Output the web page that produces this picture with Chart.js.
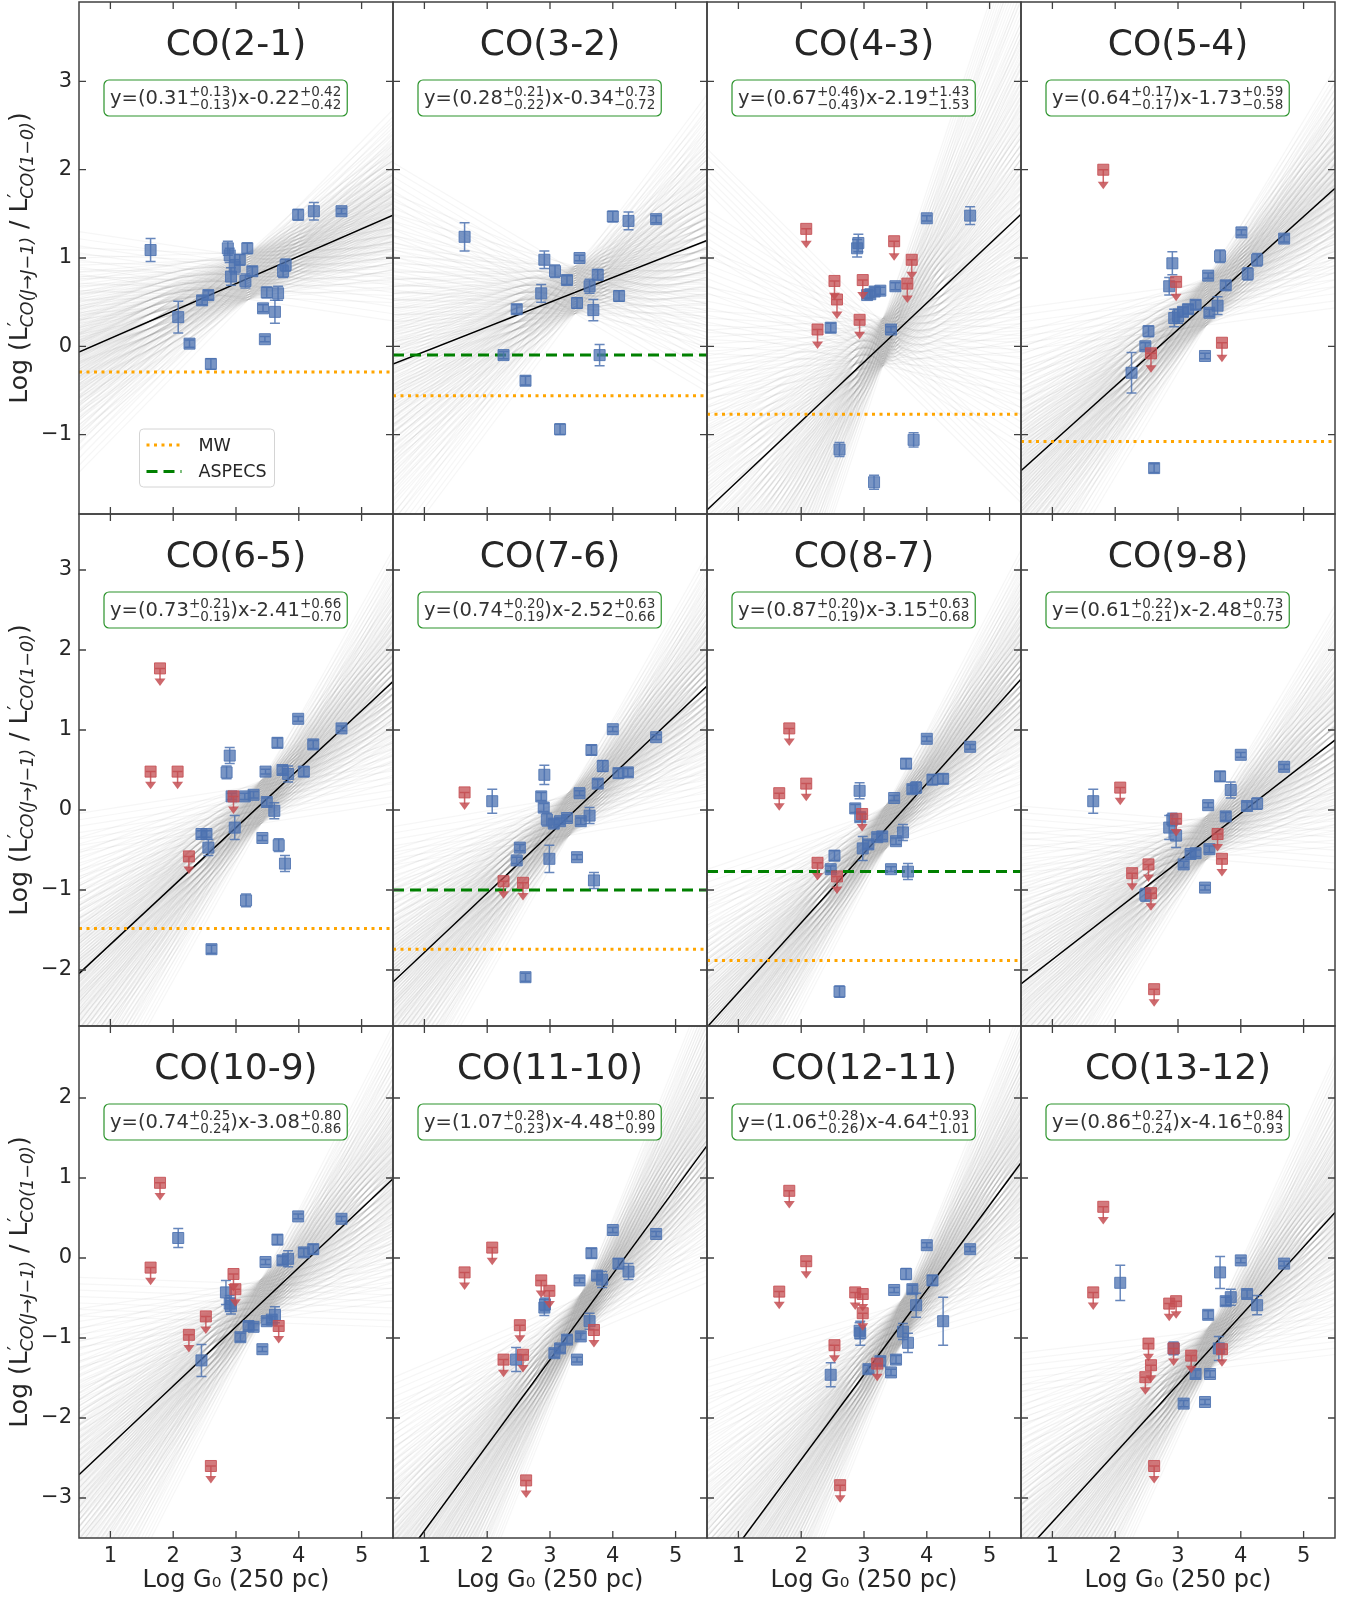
<!DOCTYPE html>
<html>
<head>
<meta charset="utf-8">
<script src="https://cdn.jsdelivr.net/npm/chart.js@4.4.1/dist/chart.umd.min.js"></script>
<style>
  html, body { margin: 0; padding: 0; background: #fff; overflow: hidden; }
  #fig { position: relative; width: 1355px; height: 1599px; overflow: hidden; }
  #fig canvas { position: absolute; }
</style>
</head>
<body>
<div id="fig"></div>
<script>
// ---- data ----
const transitions = ["CO(2-1)", "CO(3-2)", "CO(4-3)", "CO(5-4)", "CO(6-5)", "CO(7-6)",
  "CO(8-7)", "CO(9-8)", "CO(10-9)", "CO(11-10)", "CO(12-11)", "CO(13-12)"];

const slopes      = [0.31, 0.28, 0.67, 0.64, 0.73, 0.74, 0.87, 0.61, 0.74, 1.07, 1.06, 0.86];
const slopeUp     = [0.13, 0.21, 0.46, 0.17, 0.21, 0.20, 0.20, 0.22, 0.25, 0.28, 0.28, 0.27];
const slopeDn     = [0.13, 0.22, 0.43, 0.17, 0.19, 0.19, 0.19, 0.21, 0.24, 0.23, 0.26, 0.24];
const intercepts  = [-0.22, -0.34, -2.19, -1.73, -2.41, -2.52, -3.15, -2.48, -3.08, -4.48, -4.64, -4.16];
const interceptUp = [0.42, 0.73, 1.43, 0.59, 0.66, 0.63, 0.63, 0.73, 0.80, 0.80, 0.93, 0.84];
const interceptDn = [0.42, 0.72, 1.53, 0.58, 0.70, 0.66, 0.68, 0.75, 0.86, 0.99, 1.01, 0.93];

// where the posterior fan is narrowest (log G0)
const fanPivotX = [3.2, 3.4, 3.3, 3.45, 3.4, 3.3, 3.35, 3.45, 3.4, 3.5, 3.6, 3.5];
// posterior draws, in units of the quoted slope error
const fanSteps = [-3.2, -2.6, -2.2, -1.9, -1.65, -1.45, -1.25, -1.08, -0.92, -0.78, -0.64, -0.5, -0.38, -0.26, -0.14,
  0, 0.14, 0.26, 0.38, 0.5, 0.64, 0.78, 0.92, 1.08, 1.25, 1.45, 1.65, 1.9, 2.2, 2.6, 3.2];
// vertical scatter of the draws at the pivot, and a stagger between neighbouring draws
const fanWaist = [-0.24, -0.16, -0.08, 0, 0.08, 0.16, 0.24];
const fanStagger = [0, 0.027, 0.053];

const mwLevel     = [-0.29, -0.56, -0.77, -1.08, -1.48, -1.74, -1.88, null, null, null, null, null];
const aspecsLevel = [null, -0.10, null, null, null, -1.00, -0.77, null, null, null, null, null];

const xTicks = [1, 2, 3, 4, 5];
const yTicks = [[-1, 0, 1, 2, 3], [-2, -1, 0, 1, 2, 3], [-3, -2, -1, 0, 1, 2]];
const xRange = [0.5, 5.5];
const yMin = [-1.9, -2.7, -3.5];
const yMax = [3.9, 3.7, 2.9];
const limArrow = 0.22;

// detections: [log G0, log ratio, error]
const det21 = [[1.64,1.09,0.13],[2.08,0.33,0.18],[2.26,0.03,0.04],[2.46,0.52,0.05],[2.56,0.58,0.05],
  [2.60,-0.20,0.06],[2.87,1.11,0.08],[2.90,1.03,0.08],[2.92,0.79,0.1],[2.98,0.90,0.08],[3.06,0.98,0.06],
  [3.15,0.74,0.08],[3.18,1.11,0.06],[3.26,0.85,0.05],[3.43,0.43,0.04],[3.46,0.08,0.03],[3.49,0.61,0.06],
  [3.62,0.39,0.13],[3.67,0.60,0.08],[3.75,0.85,0.07],[3.79,0.92,0.07],[3.99,1.49,0.06],[4.24,1.53,0.1],
  [4.68,1.53,0.03]];
const det32 = [[1.64,1.24,0.16],[2.26,-0.10,0.04],[2.47,0.42,0.05],[2.61,-0.39,0.05],[2.86,0.60,0.1],
  [2.91,0.98,0.1],[3.08,0.85,0.07],[3.16,-0.94,0.06],[3.27,0.75,0.05],[3.43,0.49,0.06],[3.47,1.00,0.03],
  [3.63,0.68,0.08],[3.69,0.41,0.12],[3.76,0.81,0.06],[3.79,-0.10,0.12],[4.00,1.47,0.06],[4.10,0.57,0.06],
  [4.25,1.42,0.1],[4.69,1.44,0.04]];
const det43 = [[2.47,0.21,0.05],[2.61,-1.17,0.08],[2.89,1.11,0.1],[2.91,1.17,0.1],[3.05,0.58,0.04],
  [3.10,0.59,0.04],[3.17,0.62,0.05],[3.26,0.63,0.04],[3.16,-1.54,0.08],[3.43,0.19,0.03],[3.50,0.68,0.04],
  [3.79,-1.06,0.08],[4.00,1.45,0.03],[4.69,1.48,0.1]];
const det54 = [[2.26,-0.30,0.23],[2.48,0.00,0.04],[2.53,0.17,0.06],[2.62,-1.38,0.05],[2.86,0.68,0.1],
  [2.91,0.94,0.13],[2.94,0.32,0.1],[3.00,0.34,0.08],[3.08,0.39,0.05],[3.16,0.42,0.05],[3.28,0.47,0.05],
  [3.43,-0.11,0.03],[3.48,0.80,0.03],[3.50,0.38,0.04],[3.63,0.46,0.1],[3.67,1.02,0.07],[3.76,0.69,0.05],
  [4.01,1.29,0.03],[4.11,0.82,0.07],[4.26,0.98,0.07],[4.69,1.22,0.04]];
const det65 = [[2.45,-0.30,0.04],[2.53,-0.30,0.04],[2.56,-0.47,0.1],[2.61,-1.74,0.05],[2.85,0.47,0.08],
  [2.90,0.68,0.1],[2.93,0.17,0.04],[2.98,-0.22,0.15],[3.14,0.17,0.04],[3.16,-1.13,0.08],[3.28,0.19,0.04],
  [3.42,-0.35,0.03],[3.47,0.48,0.03],[3.49,0.10,0.05],[3.61,-0.01,0.1],[3.66,0.84,0.06],[3.68,-0.44,0.08],
  [3.74,0.50,0.05],[3.78,-0.67,0.1],[3.83,0.45,0.1],[3.99,1.14,0.03],[4.08,0.48,0.06],[4.23,0.82,0.05],
  [4.68,1.02,0.03]];
const det76 = [[2.08,0.11,0.15],[2.47,-0.63,0.04],[2.52,-0.47,0.04],[2.61,-2.09,0.05],[2.86,0.17,0.05],
  [2.90,0.03,0.05],[2.91,0.44,0.12],[2.95,-0.12,0.08],[2.99,-0.61,0.17],[3.06,-0.17,0.05],[3.16,-0.14,0.04],
  [3.27,-0.10,0.04],[3.43,-0.59,0.03],[3.47,0.21,0.03],[3.49,-0.14,0.04],[3.63,-0.07,0.1],[3.66,0.75,0.06],
  [3.70,-0.88,0.1],[3.76,0.33,0.05],[3.84,0.55,0.07],[4.00,1.01,0.03],[4.09,0.46,0.06],[4.24,0.47,0.05],
  [4.69,0.91,0.03]];
const det87 = [[2.47,-0.74,0.04],[2.53,-0.57,0.06],[2.61,-2.27,0.07],[2.86,0.02,0.05],[2.93,0.24,0.1],
  [2.94,-0.09,0.05],[2.98,-0.48,0.15],[3.07,-0.43,0.05],[3.21,-0.34,0.04],[3.29,-0.33,0.04],[3.43,-0.74,0.03],
  [3.48,0.15,0.03],[3.51,-0.39,0.04],[3.62,-0.28,0.1],[3.67,0.58,0.06],[3.70,-0.77,0.1],[3.77,0.26,0.05],
  [3.83,0.28,0.07],[4.00,0.89,0.03],[4.09,0.38,0.06],[4.26,0.39,0.06],[4.69,0.79,0.03]];
const det98 = [[1.65,0.11,0.15],[2.48,-1.06,0.08],[2.86,-0.22,0.15],[2.91,-0.12,0.08],[2.97,-0.32,0.15],
  [3.09,-0.68,0.04],[3.20,-0.55,0.04],[3.28,-0.54,0.04],[3.43,-0.97,0.03],[3.48,0.06,0.03],[3.50,-0.49,0.04],
  [3.67,0.42,0.06],[3.76,-0.08,0.05],[3.84,0.25,0.1],[4.00,0.69,0.03],[4.10,0.05,0.05],[4.26,0.08,0.07],
  [4.69,0.54,0.03]];
const det109 = [[2.08,0.25,0.12],[2.45,-1.28,0.2],[2.84,-0.43,0.15],[2.90,-0.57,0.1],[2.92,-0.60,0.1],
  [3.07,-0.99,0.05],[3.20,-0.85,0.05],[3.28,-0.86,0.04],[3.42,-1.14,0.03],[3.47,-0.05,0.03],[3.49,-0.79,0.04],
  [3.57,-0.77,0.04],[3.62,-0.71,0.1],[3.66,0.23,0.06],[3.74,-0.03,0.05],[3.83,-0.01,0.1],[3.99,0.52,0.03],
  [4.08,0.07,0.05],[4.23,0.11,0.06],[4.68,0.49,0.03]];
const det1110 = [[2.46,-1.27,0.15],[2.91,-0.62,0.1],[2.92,-0.58,0.08],[3.07,-1.19,0.05],[3.16,-1.13,0.05],
  [3.27,-1.02,0.05],[3.43,-1.27,0.03],[3.47,-0.28,0.03],[3.49,-0.98,0.04],[3.63,-0.79,0.1],[3.66,0.06,0.06],
  [3.75,-0.22,0.05],[3.83,-0.27,0.1],[4.00,0.35,0.03],[4.09,-0.07,0.06],[4.25,-0.17,0.1],[4.69,0.30,0.03]];
const det1211 = [[2.47,-1.46,0.15],[2.93,-0.91,0.1],[2.94,-0.94,0.15],[3.07,-1.39,0.05],[3.26,-1.29,0.05],
  [3.43,-1.43,0.04],[3.48,-0.40,0.03],[3.51,-1.27,0.05],[3.62,-0.92,0.1],[3.67,-0.20,0.07],[3.70,-1.06,0.12],
  [3.77,-0.39,0.05],[3.83,-0.59,0.15],[4.00,0.16,0.03],[4.09,-0.28,0.06],[4.26,-0.79,0.3],[4.69,0.11,0.03]];
const det1312 = [[2.08,-0.31,0.22],[2.93,-1.13,0.08],[3.09,-1.82,0.04],[3.28,-1.45,0.05],[3.43,-1.80,0.03],
  [3.48,-0.71,0.05],[3.51,-1.45,0.04],[3.65,-1.13,0.15],[3.67,-0.18,0.2],[3.76,-0.54,0.05],[3.84,-0.49,0.1],
  [4.00,-0.03,0.03],[4.10,-0.45,0.05],[4.26,-0.59,0.12],[4.69,-0.07,0.03]];

// upper limits: [log G0, log ratio]
const lim21 = [];
const lim32 = [];
const lim43 = [[2.08,1.33],[2.26,0.19],[2.53,0.74],[2.57,0.53],[2.93,0.30],[2.98,0.75],[3.48,1.19],[3.69,0.71],[3.76,0.98]];
const lim54 = [[1.81,2.00],[2.57,-0.08],[2.97,0.73],[3.70,0.04]];
const lim65 = [[1.64,0.48],[1.79,1.77],[2.07,0.48],[2.25,-0.58],[2.96,0.17]];
const lim76 = [[1.64,0.22],[2.26,-0.89],[2.57,-0.91]];
const lim87 = [[1.65,0.21],[1.81,1.02],[2.08,0.33],[2.26,-0.66],[2.57,-0.83],[2.97,-0.05]];
const lim98 = [[2.08,0.28],[2.27,-0.79],[2.53,-0.68],[2.57,-1.04],[2.62,-2.24],[2.97,-0.11],[3.63,-0.30],[3.70,-0.61]];
const lim109 = [[1.64,-0.12],[1.79,0.94],[2.25,-0.96],[2.52,-0.73],[2.60,-2.60],[2.96,-0.20],[2.99,-0.39],[3.68,-0.85]];
const lim1110 = [[1.64,-0.18],[2.08,0.13],[2.26,-1.27],[2.52,-0.84],[2.57,-1.21],[2.62,-2.78],[2.86,-0.28],[2.99,-0.41],[3.70,-0.90]];
const lim1211 = [[1.65,-0.42],[1.81,0.84],[2.08,-0.04],[2.53,-1.09],[2.62,-2.84],[2.86,-0.43],[2.98,-0.45],[2.98,-0.69],[3.21,-1.32]];
const lim1312 = [[1.65,-0.43],[1.81,0.64],[2.48,-1.49],[2.53,-1.07],[2.57,-1.34],[2.62,-2.60],[2.86,-0.57],[2.93,-1.13],[2.97,-0.54],[3.21,-1.22],[3.70,-1.14]];

const detections = [det21, det32, det43, det54, det65, det76, det87, det98, det109, det1110, det1211, det1312];
const limits = [lim21, lim32, lim43, lim54, lim65, lim76, lim87, lim98, lim109, lim1110, lim1211, lim1312];

// ---- layout / style ----
const plotLeft = [79, 393, 707, 1021];
const plotTop = [2, 514, 1026];
const plotW = 314, plotH = 512;
const PAD = 12;
const FONT = '"DejaVu Sans"';
const blueFill = 'rgba(76,114,176,0.75)';
const blueLine = 'rgba(76,114,176,0.85)';
const redFill = 'rgba(196,78,82,0.75)';
const redLine = 'rgba(196,78,82,0.85)';
const mwColor = '#ffa500';
const aspecsColor = '#008000';
const textColor = '#262626';
const frameColor = '#404040';
const fanColor = 'rgba(70,70,70,0.05)';

Chart.defaults.font.family = FONT;

const minus = v => (v < 0 ? '\u2212' + Math.abs(v) : String(v));

function drawEquation(ctx, x, top, i) {
  const main = '19.5px ' + FONT, small = '13.5px ' + FONT;
  const parts = [
    { t: 'y=(' + slopes[i].toFixed(2) },
    { sup: '+' + slopeUp[i].toFixed(2), sub: '\u2212' + slopeDn[i].toFixed(2) },
    { t: ')x-' + Math.abs(intercepts[i]).toFixed(2) },
    { sup: '+' + interceptUp[i].toFixed(2), sub: '\u2212' + interceptDn[i].toFixed(2) }
  ];
  let w = 0;
  parts.forEach(p => {
    if (p.t) { ctx.font = main; p.w = ctx.measureText(p.t).width; }
    else { ctx.font = small; p.w = Math.max(ctx.measureText(p.sup).width, ctx.measureText(p.sub).width); }
    w += p.w;
  });
  const padX = 6, boxH = 36;
  ctx.beginPath();
  ctx.roundRect(x, top, w + 2 * padX, boxH, 5);
  ctx.fillStyle = '#fff';
  ctx.fill();
  ctx.strokeStyle = 'rgba(20,135,20,0.9)';
  ctx.lineWidth = 1.2;
  ctx.stroke();
  ctx.fillStyle = '#333';
  ctx.textAlign = 'left';
  ctx.textBaseline = 'alphabetic';
  let cx = x + padX;
  const base = top + 24;
  parts.forEach(p => {
    if (p.t) { ctx.font = main; ctx.fillText(p.t, cx, base); }
    else {
      ctx.font = small;
      ctx.fillText(p.sup, cx, base - 8);
      ctx.fillText(p.sub, cx, base + 4.5);
    }
    cx += p.w;
  });
}

function drawYTitle(ctx, cx, cy) {
  const main = '25px ' + FONT, sub = 'italic 17.5px ' + FONT, prime = '19px ' + FONT;
  const segs = [
    { t: 'Log (L', f: main, dy: 0 },
    { t: '\u2032', f: prime, dy: -6, overlay: true },
    { t: 'CO(J\u2192J\u22121)', f: sub, dy: 6 },
    { t: ' / L', f: main, dy: 0 },
    { t: '\u2032', f: prime, dy: -6, overlay: true },
    { t: 'CO(1\u22120)', f: sub, dy: 6 },
    { t: ')', f: main, dy: 0 }
  ];
  ctx.save();
  let total = 0;
  segs.forEach(s => { ctx.font = s.f; s.w = ctx.measureText(s.t).width; if (!s.overlay) total += s.w; });
  ctx.translate(cx, cy);
  ctx.rotate(-Math.PI / 2);
  ctx.fillStyle = textColor;
  ctx.textAlign = 'left';
  ctx.textBaseline = 'alphabetic';
  let x = -total / 2;
  segs.forEach(s => {
    ctx.font = s.f;
    ctx.fillText(s.t, x + (s.overlay ? 1 : 0), 8.5 + s.dy);
    if (!s.overlay) x += s.w;
  });
  ctx.restore();
}

function drawLegend(ctx, a) {
  const x = a.left + 60.5, y = a.top + 427, w = 135, h = 58;
  ctx.save();
  ctx.beginPath();
  ctx.roundRect(x, y, w, h, 4);
  ctx.fillStyle = 'rgba(255,255,255,0.85)';
  ctx.fill();
  ctx.strokeStyle = '#d4d4d4';
  ctx.lineWidth = 1;
  ctx.stroke();
  ctx.lineWidth = 3;
  ctx.lineCap = 'butt';
  ctx.strokeStyle = mwColor;
  ctx.setLineDash([3, 4.5]);
  ctx.beginPath(); ctx.moveTo(x + 7, y + 16); ctx.lineTo(x + 42, y + 16); ctx.stroke();
  ctx.strokeStyle = aspecsColor;
  ctx.setLineDash([11, 6]);
  ctx.beginPath(); ctx.moveTo(x + 7, y + 42.5); ctx.lineTo(x + 42, y + 42.5); ctx.stroke();
  ctx.setLineDash([]);
  ctx.fillStyle = textColor;
  ctx.font = '17.5px ' + FONT;
  ctx.textBaseline = 'middle';
  ctx.fillText('MW', x + 59, y + 17);
  ctx.fillText('ASPECS', x + 59, y + 43.5);
  ctx.restore();
}

const panelDecor = {
  id: 'panelDecor',
  beforeDatasetDraw(chart, args) {
    const ds = chart.data.datasets[args.index];
    if (ds.kind !== 'det' && ds.kind !== 'lim') return;
    const ctx = chart.ctx, xs = chart.scales.x, ys = chart.scales.y;
    ctx.save();
    ctx.lineWidth = 1.5;
    if (ds.kind === 'det') {
      ctx.strokeStyle = blueLine;
      ds.data.forEach(pt => {
        const px = xs.getPixelForValue(pt.x);
        const t = ys.getPixelForValue(pt.y + pt.err);
        const b = ys.getPixelForValue(pt.y - pt.err);
        ctx.beginPath();
        ctx.moveTo(px, t); ctx.lineTo(px, b);
        ctx.moveTo(px - 5, t); ctx.lineTo(px + 5, t);
        ctx.moveTo(px - 5, b); ctx.lineTo(px + 5, b);
        ctx.stroke();
      });
    } else {
      ctx.strokeStyle = redLine;
      ctx.fillStyle = redLine;
      ds.data.forEach(pt => {
        const px = xs.getPixelForValue(pt.x);
        const py = ys.getPixelForValue(pt.y);
        const tip = ys.getPixelForValue(pt.y - limArrow);
        ctx.beginPath();
        ctx.moveTo(px - 5, py); ctx.lineTo(px + 5, py);
        ctx.moveTo(px, py); ctx.lineTo(px, tip - 6);
        ctx.stroke();
        ctx.beginPath();
        ctx.moveTo(px - 5.5, tip - 7.5); ctx.lineTo(px + 5.5, tip - 7.5); ctx.lineTo(px, tip);
        ctx.closePath();
        ctx.fill();
      });
    }
    ctx.restore();
  },
  afterDraw(chart) {
    const o = chart.options.plugins.panelDecor;
    const ctx = chart.ctx, a = chart.chartArea, xs = chart.scales.x, ys = chart.scales.y;
    const i = o.index;
    ctx.save();
    // inward ticks on all sides
    ctx.strokeStyle = frameColor;
    ctx.lineWidth = 1.3;
    ctx.beginPath();
    xTicks.forEach(v => {
      const px = xs.getPixelForValue(v);
      ctx.moveTo(px, a.top); ctx.lineTo(px, a.top + 7);
      ctx.moveTo(px, a.bottom); ctx.lineTo(px, a.bottom - 7);
    });
    yTicks[o.row].forEach(v => {
      const py = ys.getPixelForValue(v);
      ctx.moveTo(a.left, py); ctx.lineTo(a.left + 7, py);
      ctx.moveTo(a.right, py); ctx.lineTo(a.right - 7, py);
    });
    ctx.stroke();
    ctx.lineWidth = 1.5;
    ctx.strokeRect(a.left, a.top, a.right - a.left, a.bottom - a.top);
    // title
    ctx.fillStyle = textColor;
    ctx.font = '36px ' + FONT;
    ctx.textAlign = 'center';
    ctx.textBaseline = 'alphabetic';
    ctx.fillText(transitions[i], (a.left + a.right) / 2, a.top + 53);
    drawEquation(ctx, a.left + 25, a.top + 78, i);
    if (i === 0) drawLegend(ctx, a);
    if (o.col === 0) drawYTitle(ctx, 18, (a.top + a.bottom) / 2);
    ctx.restore();
  }
};

const fig = document.getElementById('fig');

transitions.forEach((name, i) => {
  const r = Math.floor(i / 4), c = i % 4;
  const yW = c === 0 ? 79 : 0, xH = r === 2 ? 61 : 0;
  const padL = c === 0 ? 0 : PAD, padR = PAD;
  const padT = PAD, padB = r === 2 ? 0 : PAD;
  const w = padL + yW + plotW + padR, h = padT + plotH + xH + padB;
  const canvas = document.createElement('canvas');
  canvas.width = w; canvas.height = h;
  canvas.style.width = w + 'px'; canvas.style.height = h + 'px';
  canvas.style.left = (plotLeft[c] - padL - yW) + 'px';
  canvas.style.top = (plotTop[r] - padT) + 'px';
  fig.appendChild(canvas);

  const a = slopes[i], b = intercepts[i], x0 = fanPivotX[i];
  const y0 = a * x0 + b;
  const datasets = [];

  datasets.push({
    kind: 'lim', order: 0,
    data: limits[i].map(p => ({ x: p[0], y: p[1] })),
    pointStyle: 'rect', pointRadius: 7.8, pointHoverRadius: 7.8,
    backgroundColor: redFill, borderColor: redLine, borderWidth: 1, showLine: false
  });
  datasets.push({
    kind: 'det', order: 1,
    data: detections[i].map(p => ({ x: p[0], y: p[1], err: p[2] })),
    pointStyle: 'rect', pointRadius: 7.8, pointHoverRadius: 7.8,
    backgroundColor: blueFill, borderColor: blueLine, borderWidth: 1, showLine: false
  });
  if (aspecsLevel[i] !== null) {
    datasets.push({
      order: 2, showLine: true, pointRadius: 0,
      data: xRange.map(x => ({ x, y: aspecsLevel[i] })),
      borderColor: aspecsColor, borderWidth: 3, borderDash: [11, 6]
    });
  }
  if (mwLevel[i] !== null) {
    datasets.push({
      order: 3, showLine: true, pointRadius: 0,
      data: xRange.map(x => ({ x, y: mwLevel[i] })),
      borderColor: mwColor, borderWidth: 3, borderDash: [3, 4.5]
    });
  }
  datasets.push({
    order: 4, showLine: true, pointRadius: 0,
    data: xRange.map(x => ({ x, y: a * x + b })),
    borderColor: '#000', borderWidth: 1.5
  });
  fanSteps.forEach((s, j) => {
    const slope = a + s * (s > 0 ? slopeUp[i] : slopeDn[i]);
    const shift = fanStagger[j % fanStagger.length];
    fanWaist.forEach(off => {
      datasets.push({
        order: 5, showLine: true, pointRadius: 0,
        data: xRange.map(x => ({ x, y: y0 + off + shift + slope * (x - x0) })),
        borderColor: fanColor, borderWidth: 1.2
      });
    });
  });

  new Chart(canvas, {
    type: 'scatter',
    data: { datasets },
    options: {
      responsive: false,
      animation: false,
      devicePixelRatio: 1,
      events: [],
      layout: { padding: { left: padL, right: padR, top: padT, bottom: padB } },
      plugins: {
        legend: { display: false },
        tooltip: { enabled: false },
        panelDecor: { index: i, row: r, col: c }
      },
      scales: {
        x: {
          type: 'linear', min: xRange[0], max: xRange[1], display: r === 2,
          grid: { display: false, drawTicks: false }, border: { display: false },
          afterBuildTicks: s => { s.ticks = xTicks.map(v => ({ value: v })); },
          ticks: { font: { size: 21 }, color: textColor, padding: 6, maxRotation: 0, autoSkip: false },
          title: { display: true, text: 'Log G\u2080 (250 pc)', font: { size: 24 }, color: textColor,
            padding: { top: 0, bottom: 4 } },
          afterFit: s => { s.height = xH; s.paddingLeft = 0; s.paddingRight = 0; }
        },
        y: {
          type: 'linear', min: yMin[r], max: yMax[r], display: c === 0,
          grid: { display: false, drawTicks: false }, border: { display: false },
          afterBuildTicks: s => { s.ticks = yTicks[r].map(v => ({ value: v })); },
          ticks: { font: { size: 21 }, color: textColor, padding: 7, autoSkip: false, callback: v => minus(v) },
          afterFit: s => { s.width = yW; s.paddingTop = 0; s.paddingBottom = 0; }
        }
      }
    },
    plugins: [panelDecor]
  });
});
</script>
</body>
</html>
